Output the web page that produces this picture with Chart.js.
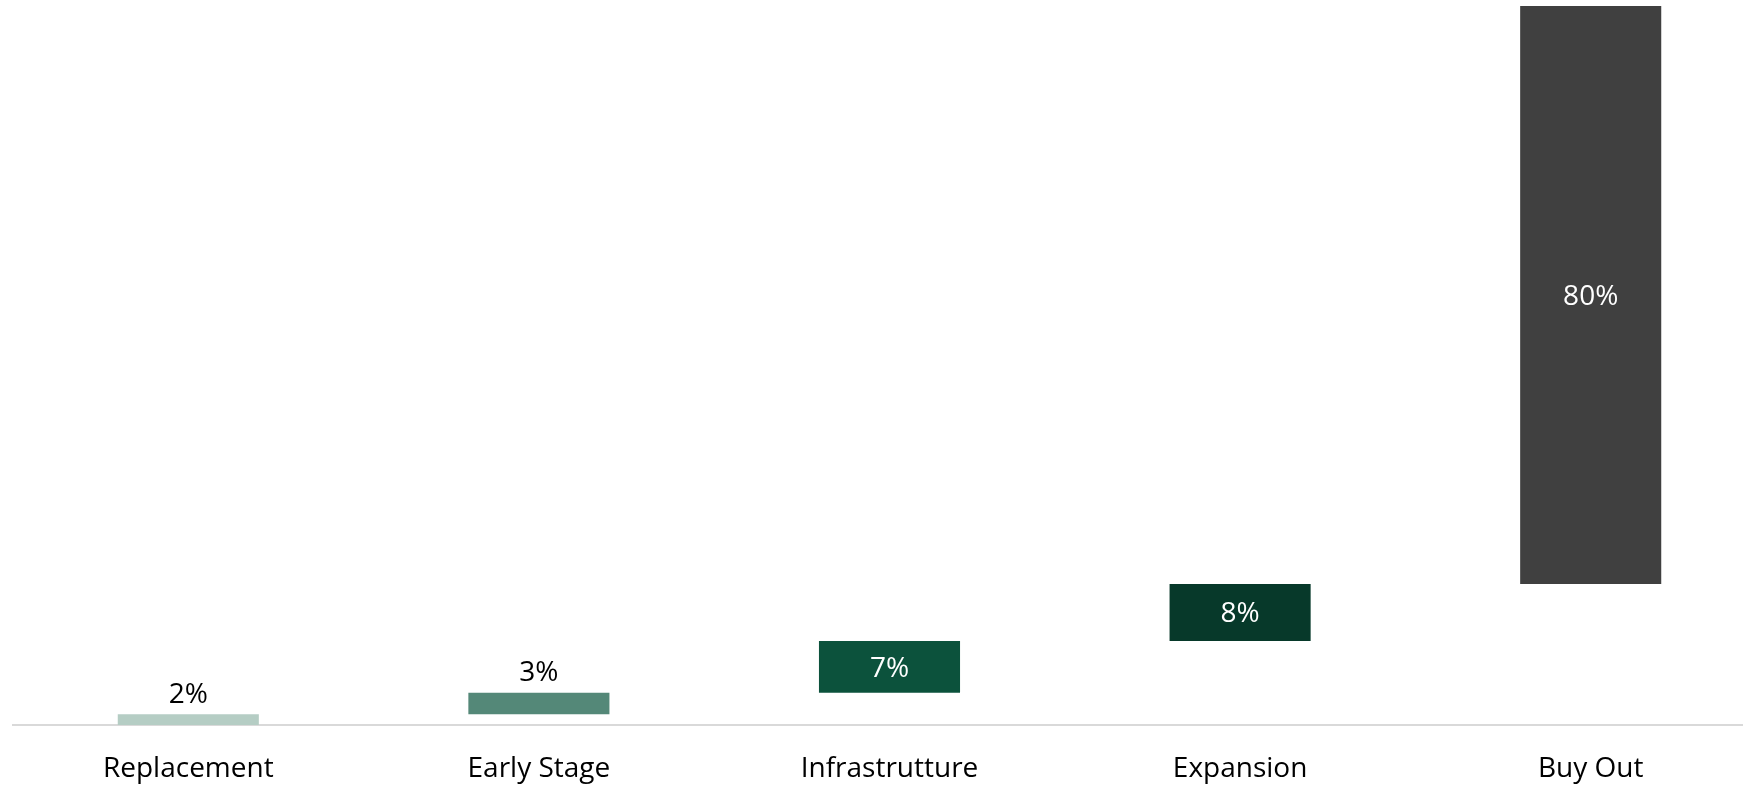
<!DOCTYPE html>
<html><head><meta charset="utf-8">
<script src="https://cdn.jsdelivr.net/npm/chart.js@4.4.1/dist/chart.umd.min.js"></script>
<style>html,body{margin:0;padding:0;overflow:hidden;background:#fff;width:1743px;height:786px}canvas{display:block}</style>
</head><body>
<canvas id="c" width="1766" height="786"></canvas>
<script>
const categories = ['Replacement', 'Early Stage', 'Infrastrutture', 'Expansion', 'Buy Out'];
const shares = [1.5, 3.0, 7.2, 7.9, 80.4];
const barColors = ['#b5cdc4', '#548878', '#0c523c', '#07392a', '#404040'];

let acc = 0;
const ranges = shares.map(v => { const r = [acc, acc + v]; acc += v; return r; });

const FONT = "'Open Sans', sans-serif";

const labelPlugin = {
  id: 'waterfallLabels',
  afterDatasetsDraw(chart) {
    const ctx = chart.ctx;
    const meta = chart.getDatasetMeta(0);
    ctx.save();
    ctx.font = "28px " + FONT;
    ctx.textAlign = 'center';
    ctx.textBaseline = 'alphabetic';
    meta.data.forEach((el, i) => {
      const top = Math.min(el.y, el.base);
      const bottom = Math.max(el.y, el.base);
      const h = bottom - top;
      const txt = Math.round(shares[i]) + '%';
      if (h < 40) {
        ctx.fillStyle = '#000000';
        ctx.fillText(txt, el.x, top - 11.5);
      } else {
        ctx.fillStyle = '#ffffff';
        ctx.fillText(txt, el.x, (top + bottom) / 2 + 10);
      }
    });
    ctx.restore();
  }
};

new Chart(document.getElementById('c'), {
  type: 'bar',
  data: {
    labels: categories,
    datasets: [{
      data: ranges,
      backgroundColor: barColors,
      borderWidth: 0,
      barPercentage: 1,
      categoryPercentage: 0.4024
    }]
  },
  options: {
    responsive: false,
    animation: false,
    devicePixelRatio: 1,
    layout: { padding: { left: 13, top: 6, right: 0, bottom: 0 } },
    plugins: { legend: { display: false }, tooltip: { enabled: false } },
    scales: {
      x: {
        grid: { display: false, drawTicks: false },
        border: { display: true, color: '#d9d9d9', width: 2 },
        ticks: { color: '#000000', font: { family: FONT, size: 28 }, padding: 27, autoSkip: false, maxRotation: 0 },
        afterFit: s => { s.height = 61; }
      },
      y: {
        display: false,
        min: 0,
        max: 100
      }
    }
  },
  plugins: [labelPlugin]
});
</script>
</body></html>
